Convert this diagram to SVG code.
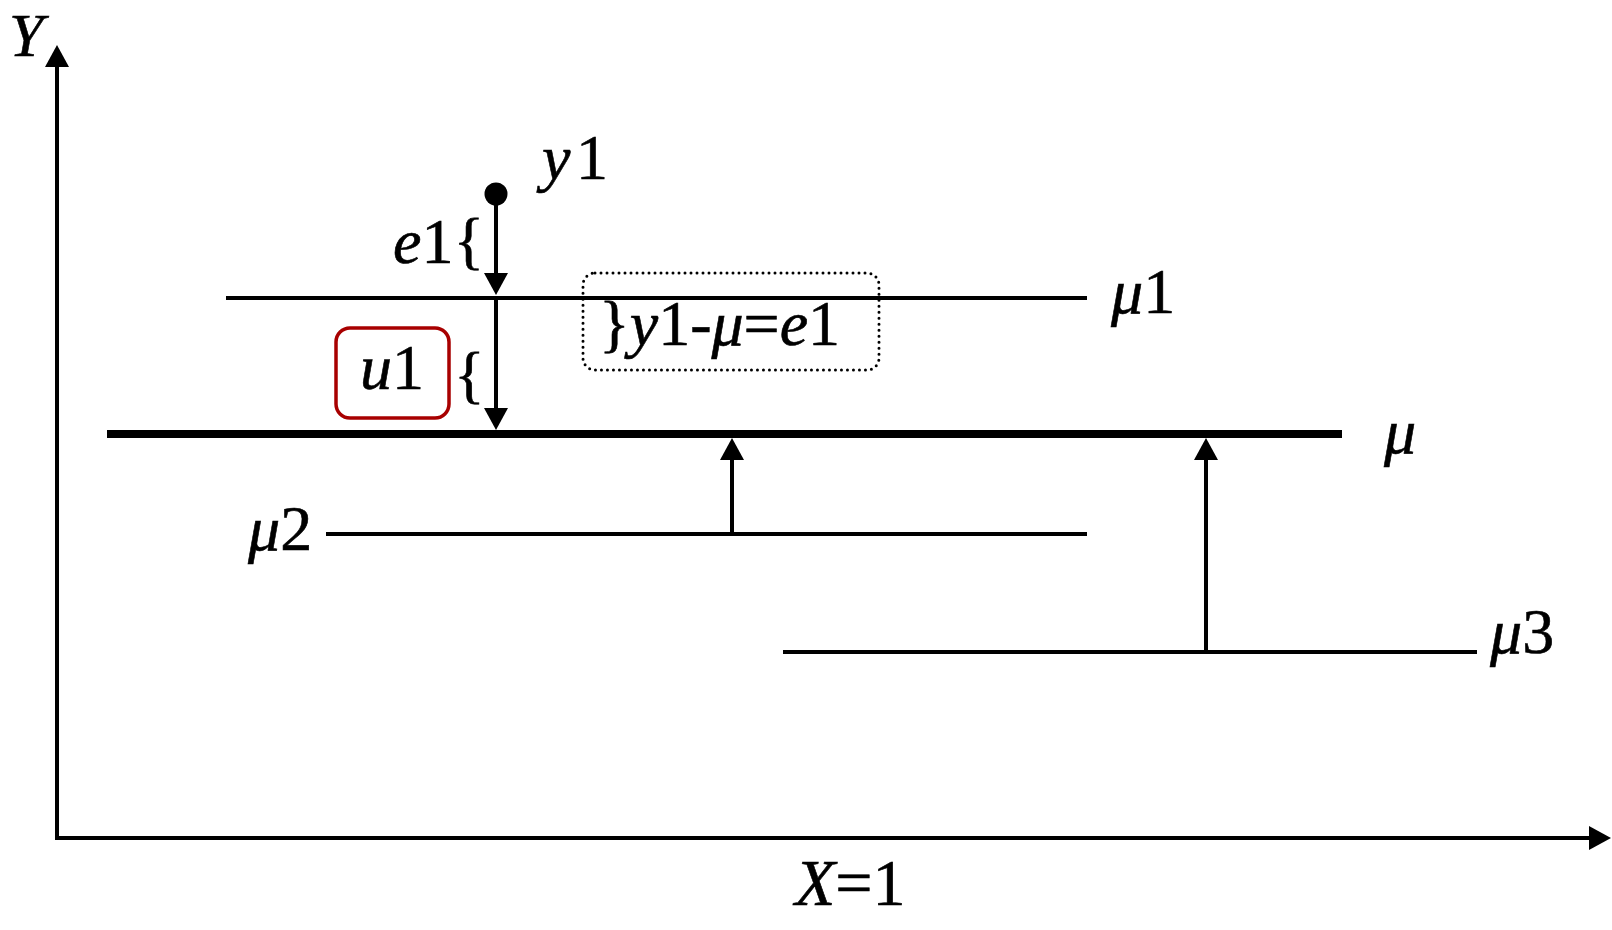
<svg xmlns="http://www.w3.org/2000/svg" width="1612" height="930" viewBox="0 0 1612 930">
<style>
.t{font-family:"Liberation Serif","Times New Roman",serif;font-size:64px;fill:#000;stroke:#000;stroke-width:0.6}
.i{font-style:italic}
.b{font-size:66px}
.ln{stroke:#000;stroke-width:4;fill:none}
.ar{stroke:#000;stroke-width:4;fill:none;marker-end:url(#ah)}
</style>
<defs>
<marker id="ah" markerUnits="userSpaceOnUse" markerWidth="24" markerHeight="26" refX="1" refY="12" orient="auto" overflow="visible">
<path d="M0,0 L22,12 L0,24 Z" fill="#000"/>
</marker>
</defs>
<rect width="1612" height="930" fill="#fff"/>
<g id="axes">
<line class="ar" x1="57" y1="840" x2="57" y2="66"/>
<line class="ar" x1="55" y1="838" x2="1590" y2="838"/>
<text class="t i" style="font-size:62px" x="9" y="56">Y</text>
<text class="t b" x="795" y="905"><tspan class="i">X</tspan>=1</text>
</g>
<g id="mu1">
<line class="ln" x1="226" y1="298" x2="1087" y2="298"/>
<text class="t" x="1111" y="313"><tspan class="i">μ</tspan>1</text>
</g>
<g id="mu">
<line class="ln" style="stroke-width:8" x1="107" y1="434" x2="1342" y2="434"/>
<text class="t i" x="1384" y="453">μ</text>
</g>
<g id="mu2">
<line class="ln" x1="326" y1="534" x2="1087" y2="534"/>
<text class="t" x="248" y="550"><tspan class="i">μ</tspan>2</text>
</g>
<g id="mu3">
<line class="ln" x1="783" y1="652" x2="1477" y2="652"/>
<text class="t" x="1490" y="653"><tspan class="i">μ</tspan>3</text>
</g>
<g id="y1">
<circle cx="496" cy="194" r="11.5" fill="#000"/>
<text class="t" x="542" y="179"><tspan class="i">y</tspan><tspan x="576">1</tspan></text>
</g>
<g id="e1">
<text class="t" x="393" y="263"><tspan class="i">e</tspan>1<tspan y="262">{</tspan></text>
</g>
<g id="u1">
<rect x="336" y="328" width="113" height="90" rx="14" fill="none" stroke="#a80000" stroke-width="3.5"/>
<text class="t" x="360" y="389"><tspan class="i">u</tspan>1</text>
<text class="t" x="454" y="396">{</text>
</g>
<g id="note">
<rect x="583" y="273" width="296" height="97" rx="12" fill="none" stroke="#000" stroke-width="3" stroke-dasharray="0 6" stroke-linecap="round"/>
<text class="t" x="599" y="345">}<tspan class="i">y</tspan>1-<tspan class="i">μ</tspan>=<tspan class="i">e</tspan>1</text>
</g>
<g id="connectors">
<line class="ar" x1="496" y1="200" x2="496" y2="274"/>
<line class="ar" x1="496" y1="298" x2="496" y2="409"/>
<line class="ar" x1="732" y1="534" x2="732" y2="459"/>
<line class="ar" x1="1206" y1="652" x2="1206" y2="459"/>
</g>
</svg>
